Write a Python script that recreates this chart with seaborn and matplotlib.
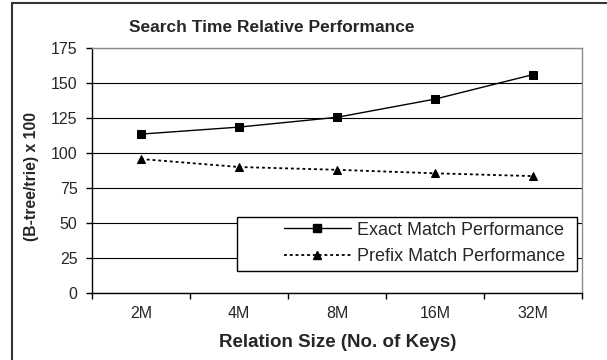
import matplotlib
matplotlib.use("Agg")
import matplotlib.pyplot as plt
from matplotlib.lines import Line2D
from matplotlib.patches import Rectangle
import seaborn as sns
import pandas as pd

# Relation sizes and relative search time (B-tree / trie x 100)
sizes = ["2M", "4M", "8M", "16M", "32M"]
exact_match = [113.5, 118.5, 125.5, 138.5, 156.0]
prefix_match = [95.7, 90.0, 88.0, 85.5, 83.5]
series_names = ["Exact Match Performance", "Prefix Match Performance"]
y_ticks = [0, 25, 50, 75, 100, 125, 150, 175]

sns.set_style("white")
plt.rcParams["font.family"] = ["Liberation Sans", "DejaVu Sans"]

df = pd.DataFrame({
    "size": sizes * 2,
    "value": exact_match + prefix_match,
    "series": [series_names[0]] * len(sizes) + [series_names[1]] * len(sizes),
})

fig = plt.figure(figsize=(6.07, 3.6), dpi=100)
ax = fig.add_axes([92 / 607, 1 - 293 / 360, 490 / 607, 245 / 360])

dot_style = (0, (1.6, 1.6))
sns.lineplot(
    data=df, x="size", y="value", style="series", sort=False,
    markers={series_names[0]: "s", series_names[1]: "^"},
    dashes={series_names[0]: "", series_names[1]: (1.6, 1.6)},
    color="black", linewidth=1.3, markersize=5.6,
    markeredgecolor="black", ax=ax, legend=False,
)
# solid series a touch thinner than the dotted one
ax.lines[0].set_linewidth(1.0)

ax.set_xlim(-0.5, len(sizes) - 0.5)
ax.set_ylim(0, 175)
ax.set_yticks(y_ticks)
ax.set_yticklabels([str(v) for v in y_ticks], fontsize=11.5)

# category boundaries carry the tick marks, labels sit in between
ax.set_xticks([i - 0.5 for i in range(len(sizes) + 1)])
ax.set_xticklabels([])
ax.set_xticks(range(len(sizes)), minor=True)
ax.set_xticklabels(sizes, minor=True, fontsize=11.5)
ax.tick_params(axis="x", which="major", direction="out", length=4, width=1,
               color="black", bottom=True)
ax.tick_params(axis="x", which="minor", length=0, pad=9.5)
ax.tick_params(axis="y", direction="out", length=4, width=1, color="black",
               left=True, pad=6.5)

ax.yaxis.grid(True, color="black", linewidth=0.8)
ax.xaxis.grid(False)
ax.set_axisbelow(True)
for side in ("left", "bottom"):
    ax.spines[side].set_color("black")
    ax.spines[side].set_linewidth(1.0)
for side in ("top", "right"):
    ax.spines[side].set_color("#8c8c8c")
    ax.spines[side].set_linewidth(1.0)

ax.set_xlabel("Relation Size (No. of Keys)", fontsize=13.5, fontweight="bold")
ax.xaxis.set_label_coords(0.501, -0.169)
ax.set_ylabel("(B-tree/trie) x 100", fontsize=11.3, fontweight="bold")
ax.yaxis.set_label_coords(-0.108, 0.4735)
ax.set_title("Search Time Relative Performance", fontsize=12.5,
             fontweight="bold", x=0.366, y=1.064, pad=0)

# legend entries share the line styles above
handles = [
    Line2D([], [], color="black", linewidth=1.0, marker="s", markersize=5.6),
    Line2D([], [], color="black", linewidth=1.3, marker="^", markersize=5.6,
           linestyle=dot_style),
]
fig.legend(handles, series_names, loc="center left",
           bbox_to_anchor=(275 / 607, 1 - 243.5 / 360), frameon=False,
           fontsize=13, borderpad=0, handlelength=3.7, handletextpad=0.35,
           labelspacing=0.55)
fig.add_artist(Rectangle((237 / 607, 1 - 271 / 360), 340 / 607, 54 / 360,
                         transform=fig.transFigure, fill=True,
                         facecolor="white", edgecolor="black", linewidth=1.0,
                         zorder=1))

# outer chart frame (left and top edges)
fig.add_artist(Line2D([11.5 / 607, 11.5 / 607], [0, 1 - 2.5 / 360],
                      transform=fig.transFigure, color="#333333", linewidth=1.5))
fig.add_artist(Line2D([11.5 / 607, 1], [1 - 2.5 / 360, 1 - 2.5 / 360],
                      transform=fig.transFigure, color="#333333", linewidth=1.5))

fig.savefig("out.png", dpi=100)
